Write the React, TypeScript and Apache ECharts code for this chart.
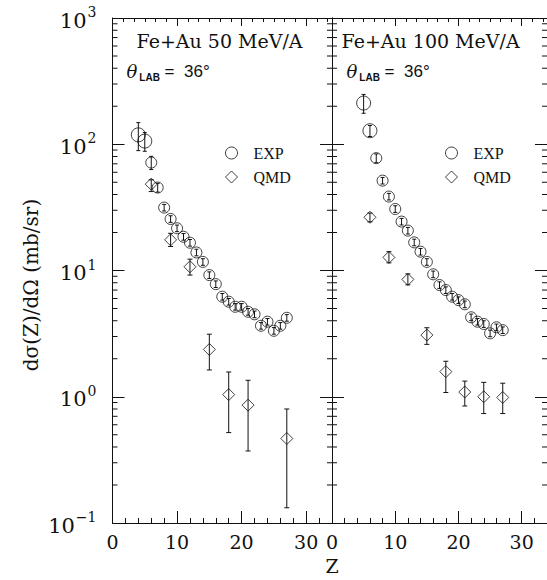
import React, { useEffect, useRef } from "react";
import * as echarts from "echarts";

// ---- Data: Fe+Au 50 MeV/A ----
const expZ50 = [4, 5, 6, 7, 8, 9, 10, 11, 12, 13, 14, 15, 16, 17, 18, 19, 20, 21, 22, 23, 24, 25, 26, 27];
const expY50 = [118.7, 106, 71.6, 45.4, 31.5, 25.6, 21.6, 18.5, 16.6, 13.9, 11.7, 9.2, 7.8, 6.2, 5.66, 5.16, 5.16, 4.71, 4.5, 3.65, 3.93, 3.33, 3.65, 4.22];
const expErr50 = [0.25, 0.17, 0.12, 0.08, 0.06, 0.06, 0.06, 0.06, 0.06, 0.06, 0.06, 0.06, 0.06, 0.06, 0.06, 0.06, 0.06, 0.06, 0.06, 0.06, 0.06, 0.06, 0.06, 0.06];
const qmdZ50 = [6, 9, 12, 15, 18, 21, 27];
const qmdY50 = [48.3, 17.5, 10.7, 2.37, 1.04, 0.858, 0.467];
const qmdLo50 = [42.2, 15.5, 9.2, 1.63, 0.52, 0.372, 0.132];
const qmdHi50 = [52.3, 19.7, 12.3, 3.13, 1.57, 1.35, 0.8];

// ---- Data: Fe+Au 100 MeV/A ----
const expZ100 = [5, 6, 7, 8, 9, 10, 11, 12, 13, 14, 15, 16, 17, 18, 19, 20, 21, 22, 23, 24, 25, 26, 27];
const expY100 = [212, 128, 77.6, 51.5, 38.5, 30.7, 24.4, 20.7, 16.7, 14.1, 11.7, 9.33, 7.67, 7.0, 6.2, 5.83, 5.4, 4.26, 3.93, 3.77, 3.18, 3.55, 3.37];
const expErr100 = [0.17, 0.1, 0.08, 0.06, 0.06, 0.06, 0.06, 0.06, 0.06, 0.06, 0.06, 0.06, 0.06, 0.06, 0.06, 0.06, 0.06, 0.06, 0.06, 0.06, 0.06, 0.06, 0.06];
const qmdZ100 = [6, 9, 12, 15, 18, 21, 24, 27];
const qmdY100 = [26.4, 12.7, 8.5, 3.08, 1.58, 1.09, 1.0, 0.987];
const qmdLo100 = [24.3, 11.5, 7.7, 2.6, 1.08, 0.845, 0.736, 0.736];
const qmdHi100 = [28.5, 14.1, 9.4, 3.52, 1.91, 1.33, 1.3, 1.28];

// ---- Axes / labels ----
const panelTitles = ["Fe+Au 50 MeV/A", "Fe+Au 100 MeV/A"];
const angleLabel = "36°";
const yDecades = [0.1, 1, 10, 100];
const yMinorMultipliers = [2, 3, 4, 5, 6, 7, 8, 9];
const xMin = 0;
const xMax = 34;
const xInterval = 10;
const yMin = 0.1;
const yMax = 1000;

const INK = "#111";
const SERIF = "DejaVu Serif";

const minorTickValues: number[] = [];
yDecades.forEach((d) => yMinorMultipliers.forEach((m) => minorTickValues.push(d * m)));

const errRender = (cap: number) => (params: any, api: any) => {
  const x = api.value(0);
  const lo = api.value(1);
  const hi = api.value(2);
  const pLo = api.coord([x, lo]);
  const pHi = api.coord([x, hi]);
  const st = { stroke: INK, lineWidth: 1 };
  return {
    type: "group",
    children: [
      { type: "line", shape: { x1: pLo[0], y1: pLo[1], x2: pHi[0], y2: pHi[1] }, style: st },
      { type: "line", shape: { x1: pLo[0] - cap, y1: pLo[1], x2: pLo[0] + cap, y2: pLo[1] }, style: st },
      { type: "line", shape: { x1: pHi[0] - cap, y1: pHi[1], x2: pHi[0] + cap, y2: pHi[1] }, style: st },
    ],
  };
};

const minorTickRender = (params: any, api: any) => {
  const cs = params.coordSys;
  const y = api.coord([xMin, api.value(1)])[1];
  const L = 5;
  const st = { stroke: INK, lineWidth: 1 };
  return {
    type: "group",
    children: [
      { type: "line", shape: { x1: cs.x, y1: y, x2: cs.x + L, y2: y }, style: st },
      { type: "line", shape: { x1: cs.x + cs.width - L, y1: y, x2: cs.x + cs.width, y2: y }, style: st },
    ],
  };
};

function xAxisCfg(gridIndex: number, position: "top" | "bottom") {
  const bottom = position === "bottom";
  return {
    type: "value",
    gridIndex,
    position,
    min: xMin,
    max: xMax,
    interval: xInterval,
    axisLine: { show: true, onZero: false, lineStyle: { color: INK, width: 1 } },
    axisTick: { show: true, inside: true, length: bottom ? 12 : 8, lineStyle: { color: INK, width: 1 } },
    minorTick: { show: true, splitNumber: bottom ? 5 : 6, length: bottom ? 5 : 4, lineStyle: { color: INK, width: 1 } },
    splitLine: { show: false },
    minorSplitLine: { show: false },
    axisLabel: {
      show: bottom,
      showMaxLabel: false,
      fontFamily: SERIF,
      fontSize: 19,
      color: INK,
      margin: 9,
    },
  };
}

function yAxisCfg(gridIndex: number, position: "left" | "right", labels: boolean) {
  return {
    type: "log",
    logBase: 10,
    gridIndex,
    position,
    min: yMin,
    max: yMax,
    axisLine: { show: true, onZero: false, lineStyle: { color: INK, width: 1 } },
    axisTick: { show: true, inside: true, length: 12, lineStyle: { color: INK, width: 1 } },
    minorTick: { show: false },
    splitLine: { show: false },
    axisLabel: {
      show: labels,
      margin: 16,
      formatter: (v: number) => {
        const e = Math.round(Math.log10(v));
        return `{b|10}{s|${e < 0 ? "−" + -e : e}}`;
      },
      rich: {
        b: { fontFamily: SERIF, fontSize: 21, color: INK, verticalAlign: "bottom" },
        s: { fontFamily: SERIF, fontSize: 14, color: INK, verticalAlign: "top", padding: [0, 0, 12, 1] },
      },
    },
  };
}

function panelSeries(
  xi: number,
  eZ: number[],
  eY: number[],
  eErr: number[],
  qZ: number[],
  qY: number[],
  qLo: number[],
  qHi: number[]
) {
  const common = { xAxisIndex: xi, yAxisIndex: xi };
  return [
    {
      type: "scatter",
      name: "EXP",
      ...common,
      symbol: "circle",
      symbolSize: (v: number[]) => (v[1] > 90 ? 14 : 11),
      itemStyle: { color: "rgba(0,0,0,0)", borderColor: INK, borderWidth: 1 },
      data: eZ.map((z, i) => [z, eY[i]]),
      z: 3,
    },
    {
      type: "scatter",
      name: "QMD",
      ...common,
      symbol: "diamond",
      symbolSize: [12, 12],
      itemStyle: { color: "rgba(0,0,0,0)", borderColor: INK, borderWidth: 1 },
      data: qZ.map((z, i) => [z, qY[i]]),
      z: 3,
    },
    {
      type: "custom",
      name: "EXP err",
      ...common,
      renderItem: errRender(2),
      encode: { x: 0, y: [1, 2] },
      data: eZ.map((z, i) => [z, eY[i] * (1 - eErr[i]), eY[i] * (1 + eErr[i])]),
      z: 2,
    },
    {
      type: "custom",
      name: "QMD err",
      ...common,
      renderItem: errRender(2.5),
      encode: { x: 0, y: [1, 2] },
      data: qZ.map((z, i) => [z, qLo[i], qHi[i]]),
      z: 2,
    },
    {
      type: "custom",
      name: "minor ticks",
      ...common,
      renderItem: minorTickRender,
      encode: { x: 0, y: 1 },
      data: minorTickValues.map((v) => [xMin, v]),
      z: 2,
      silent: true,
    },
  ];
}

export default function App() {
  const ref = useRef<HTMLDivElement>(null);
  useEffect(() => {
    if (!ref.current) return;
    const chart = echarts.init(ref.current, undefined, { renderer: "svg" });
    const legendCfg = (left: number) => ({
      data: ["EXP", "QMD"],
      left,
      top: 140,
      orient: "vertical",
      itemWidth: 12,
      itemHeight: 12,
      itemGap: 8,
      selectedMode: false,
      itemStyle: { color: "rgba(0,0,0,0)", borderColor: INK, borderWidth: 1 },
      textStyle: { fontFamily: "Liberation Serif", fontSize: 16, color: INK, lineHeight: 12, padding: [0, 0, 0, 11] },
    });
    const thetaText = (x: number) => ({
      type: "text",
      x,
      y: 71.5,
      style: {
        text: `{t|θ}{s|LAB}{e| =  ${angleLabel}}`,
        verticalAlign: "middle",
        textVerticalAlign: "middle",
        rich: {
          t: { fontFamily: SERIF, fontStyle: "italic", fontSize: 18, fill: INK, color: INK },
          s: { fontFamily: "Liberation Sans", fontWeight: "bold", fontSize: 10, fill: INK, color: INK, verticalAlign: "bottom", padding: [12, 0, 0, 2] },
          e: { fontFamily: "Liberation Sans", fontSize: 17, fill: INK, color: INK },
        },
      },
    });
    chart.setOption({
      animation: false,
      backgroundColor: "#fff",
      grid: [
        { left: 112.5, top: 18, width: 219.5, height: 505 },
        { left: 332, top: 18, width: 219.5, height: 505 },
      ],
      xAxis: [xAxisCfg(0, "bottom"), xAxisCfg(1, "bottom"), xAxisCfg(0, "top"), xAxisCfg(1, "top")],
      yAxis: [yAxisCfg(0, "left", true), yAxisCfg(1, "left", false), yAxisCfg(0, "right", false), yAxisCfg(1, "right", false)],
      legend: [legendCfg(220), legendCfg(440)],
      graphic: [
        {
          type: "text",
          x: 136.5,
          y: 41,
          style: { text: panelTitles[0], fontFamily: SERIF, fontSize: 19, fill: INK, verticalAlign: "middle", textVerticalAlign: "middle" },
        },
        {
          type: "text",
          x: 341.5,
          y: 41,
          style: { text: panelTitles[1], fontFamily: SERIF, fontSize: 19, fill: INK, verticalAlign: "middle", textVerticalAlign: "middle" },
        },
        thetaText(126.5),
        thetaText(346.5),
        {
          type: "text",
          x: 31,
          y: 285,
          rotation: Math.PI / 2,
          style: {
            text: "dσ(Z)/dΩ (mb/sr)",
            fontFamily: SERIF,
            fontSize: 20,
            fill: INK,
            align: "center",
            textAlign: "center",
            verticalAlign: "middle",
            textVerticalAlign: "middle",
          },
        },
        {
          type: "text",
          x: 332,
          y: 566,
          style: {
            text: "Z",
            fontFamily: SERIF,
            fontSize: 19,
            fill: INK,
            align: "center",
            textAlign: "center",
            verticalAlign: "middle",
            textVerticalAlign: "middle",
          },
        },
      ],
      series: [
        ...panelSeries(0, expZ50, expY50, expErr50, qmdZ50, qmdY50, qmdLo50, qmdHi50),
        ...panelSeries(1, expZ100, expY100, expErr100, qmdZ100, qmdY100, qmdLo100, qmdHi100),
      ],
    });
    return () => chart.dispose();
  }, []);
  return <div ref={ref} style={{ position: "absolute", left: 0, top: 0, width: 547, height: 580 }} />;
}
